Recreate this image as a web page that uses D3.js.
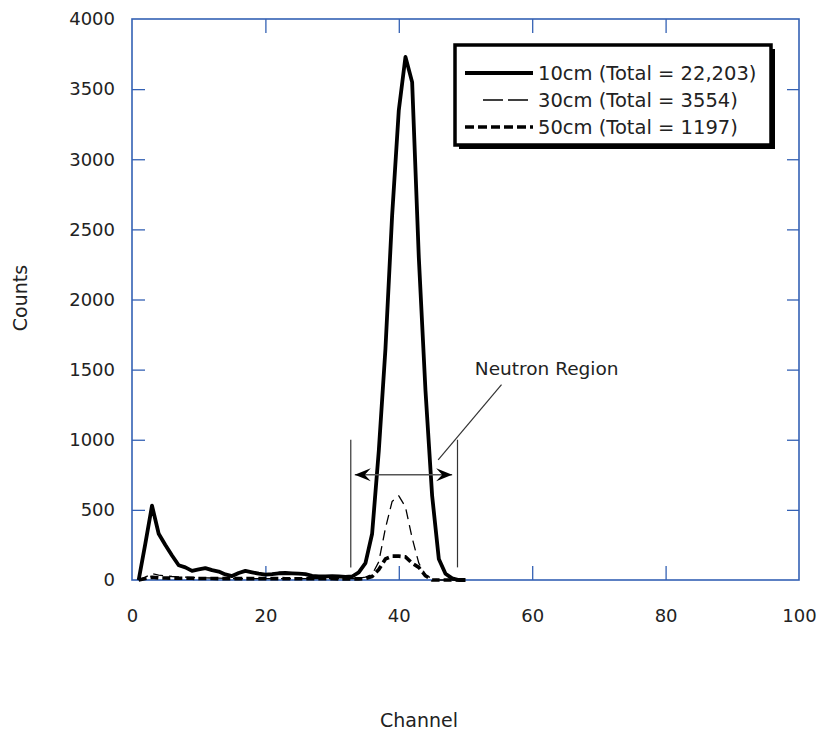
<!DOCTYPE html>
<html>
<head>
<meta charset="utf-8">
<style>
body { margin: 0; background: #fff; }
text { font-family: "DejaVu Sans", sans-serif; fill: #222; }
.frame { fill: none; stroke: #3461b4; stroke-width: 1.6; }
.axis .domain { display: none; }
.axis line { stroke: #3461b4; stroke-width: 1.3; }
.axis text { font-size: 18px; fill: #222; }
.series { fill: none; stroke: #000; stroke-linejoin: round; }
</style>
</head>
<body>
<svg width="818" height="732"></svg>
<script src="https://d3js.org/d3.v7.min.js"></script>
<script>
  // channel numbers and counts
  var channels = [1, 2, 3, 4, 5, 6, 7, 8, 9, 10, 11, 12, 13, 14, 15, 16, 17, 18, 19, 20,
    21, 22, 23, 24, 25, 26, 27, 28, 29, 30, 31, 32, 33, 34, 35, 36, 37, 38, 39, 40,
    41, 42, 43, 44, 45, 46, 47, 48, 49, 50];

  var counts10 = [0, 260, 530, 330, 250, 175, 105, 90, 65, 75, 85, 70, 60, 40, 28, 50, 65, 55, 45, 38,
    42, 48, 50, 47, 45, 42, 30, 25, 26, 28, 25, 22, 25, 55, 120, 330, 920, 1650, 2600, 3350,
    3730, 3550, 2300, 1350, 600, 150, 45, 12, 0, 0];

  var counts30 = [0, 20, 45, 35, 30, 25, 22, 20, 18, 16, 15, 14, 13, 12, 11, 10, 10, 10, 10, 10,
    10, 10, 10, 10, 10, 10, 10, 10, 10, 10, 10, 10, 10, 12, 20, 40, 130, 370, 560, 600,
    520, 300, 120, 35, 10, 0, 0, 0, 0, 0];

  var counts50 = [0, 10, 20, 15, 14, 13, 12, 12, 12, 11, 11, 11, 10, 10, 10, 10, 10, 10, 10, 10,
    10, 10, 9, 9, 9, 9, 9, 9, 9, 9, 8, 8, 8, 8, 10, 25, 75, 150, 170, 170,
    165, 120, 90, 30, 0, 0, 0, 0, 0, 0];

  var seriesNames = ["10cm (Total = 22,203)", "30cm (Total = 3554)", "50cm (Total = 1197)"];
  var xTicks = [0, 20, 40, 60, 80, 100];
  var yTicks = [0, 500, 1000, 1500, 2000, 2500, 3000, 3500, 4000];

  // neutron region annotation (channel / counts)
  var regionBounds = [32.8, 48.8];
  var regionBarCounts = [90, 1000];
  var arrowSpan = [33.4, 48.0];
  var arrowCounts = 750;

  var svg = d3.select("svg");
  var plotL = 132, plotR = 799, plotT = 19, plotB = 580;

  var x = d3.scaleLinear().domain([0, 100]).range([plotL, plotR]);
  var y = d3.scaleLinear().domain([0, 4000]).range([plotB, plotT]);

  // ticks
  svg.append("g").attr("class", "axis")
    .attr("transform", "translate(" + plotL + ",0)")
    .call(d3.axisLeft(y).tickValues(yTicks).tickFormat(d3.format("d")).tickSize(-13).tickPadding(17))
    .selectAll(".tick line").filter(function(d) { return d === 0 || d === 4000; }).remove();

  svg.append("g").attr("class", "axis")
    .attr("transform", "translate(0," + plotB + ")")
    .call(d3.axisBottom(x).tickValues(xTicks).tickSize(-14).tickPadding(29))
    .selectAll(".tick line").filter(function(d) { return d === 0 || d === 100; }).remove();

  svg.append("g").attr("class", "axis")
    .attr("transform", "translate(" + plotR + ",0)")
    .call(d3.axisRight(y).tickValues(yTicks.slice(1, -1)).tickSize(-12).tickFormat(""));

  svg.append("g").attr("class", "axis")
    .attr("transform", "translate(0," + plotT + ")")
    .call(d3.axisTop(x).tickValues(xTicks.slice(1, -1)).tickSize(-14).tickFormat(""));

  svg.append("rect").attr("class", "frame")
    .attr("x", plotL).attr("y", plotT)
    .attr("width", plotR - plotL).attr("height", plotB - plotT);

  // series
  var line = d3.line()
    .x(function(d) { return x(d[0]); })
    .y(function(d) { return y(d[1]); });

  svg.append("path").attr("class", "series")
    .attr("stroke-width", 1.3).attr("stroke-dasharray", "10,6")
    .attr("d", line(d3.zip(channels, counts30)));

  svg.append("path").attr("class", "series")
    .attr("stroke-width", 3.6).attr("stroke-dasharray", "8,4")
    .attr("d", line(d3.zip(channels, counts50)));

  svg.append("path").attr("class", "series")
    .attr("stroke-width", 3.8)
    .attr("d", line(d3.zip(channels, counts10)));

  // neutron region
  svg.append("defs").append("marker")
    .attr("id", "head").attr("viewBox", "-17 -7 18 14")
    .attr("markerWidth", 18).attr("markerHeight", 14)
    .attr("markerUnits", "userSpaceOnUse")
    .attr("orient", "auto-start-reverse")
    .append("path").attr("d", "M0,0L-16,-6.5L-10,0L-16,6.5Z").attr("fill", "#000");

  regionBounds.forEach(function(c) {
    svg.append("line")
      .attr("x1", x(c)).attr("x2", x(c))
      .attr("y1", y(regionBarCounts[0])).attr("y2", y(regionBarCounts[1]))
      .attr("stroke", "#333").attr("stroke-width", 1.2);
  });

  svg.append("line")
    .attr("x1", x(arrowSpan[0])).attr("x2", x(arrowSpan[1]))
    .attr("y1", y(arrowCounts)).attr("y2", y(arrowCounts))
    .attr("stroke", "#555").attr("stroke-width", 1.5)
    .attr("marker-start", "url(#head)").attr("marker-end", "url(#head)");

  svg.append("line")
    .attr("x1", x(45.9)).attr("y1", y(857))
    .attr("x2", x(55.4)).attr("y2", y(1393))
    .attr("stroke", "#333").attr("stroke-width", 1.2);

  svg.append("text")
    .attr("x", x(51.4)).attr("y", 375)
    .style("font-size", "18.5px")
    .text("Neutron Region");

  // legend
  var lg = svg.append("g");
  lg.append("rect").attr("x", 459).attr("y", 49).attr("width", 316).attr("height", 100).attr("fill", "#000");
  lg.append("rect").attr("x", 455).attr("y", 45).attr("width", 316).attr("height", 100)
    .attr("fill", "#fff").attr("stroke", "#000").attr("stroke-width", 3.5);

  var samples = [
    {w: 4, dash: null, x1: 465, x2: 533},
    {w: 1.3, dash: "20,5", x1: 483, x2: 528},
    {w: 3.6, dash: "9,4", x1: 465, x2: 533}
  ];
  seriesNames.forEach(function(name, i) {
    var yy = 73 + i * 27;
    var s = samples[i];
    lg.append("line")
      .attr("x1", s.x1).attr("x2", s.x2).attr("y1", yy).attr("y2", yy)
      .attr("stroke", "#000").attr("stroke-width", s.w)
      .attr("stroke-dasharray", s.dash);
    lg.append("text")
      .attr("x", 538).attr("y", yy + 7)
      .style("font-size", "19.5px")
      .text(name);
  });

  // axis titles
  svg.append("text")
    .attr("x", 419).attr("y", 727)
    .attr("text-anchor", "middle")
    .style("font-size", "19px")
    .text("Channel");

  svg.append("text")
    .attr("transform", "translate(27,298) rotate(-90)")
    .attr("text-anchor", "middle")
    .style("font-size", "19px")
    .text("Counts");
</script>
</body>
</html>
